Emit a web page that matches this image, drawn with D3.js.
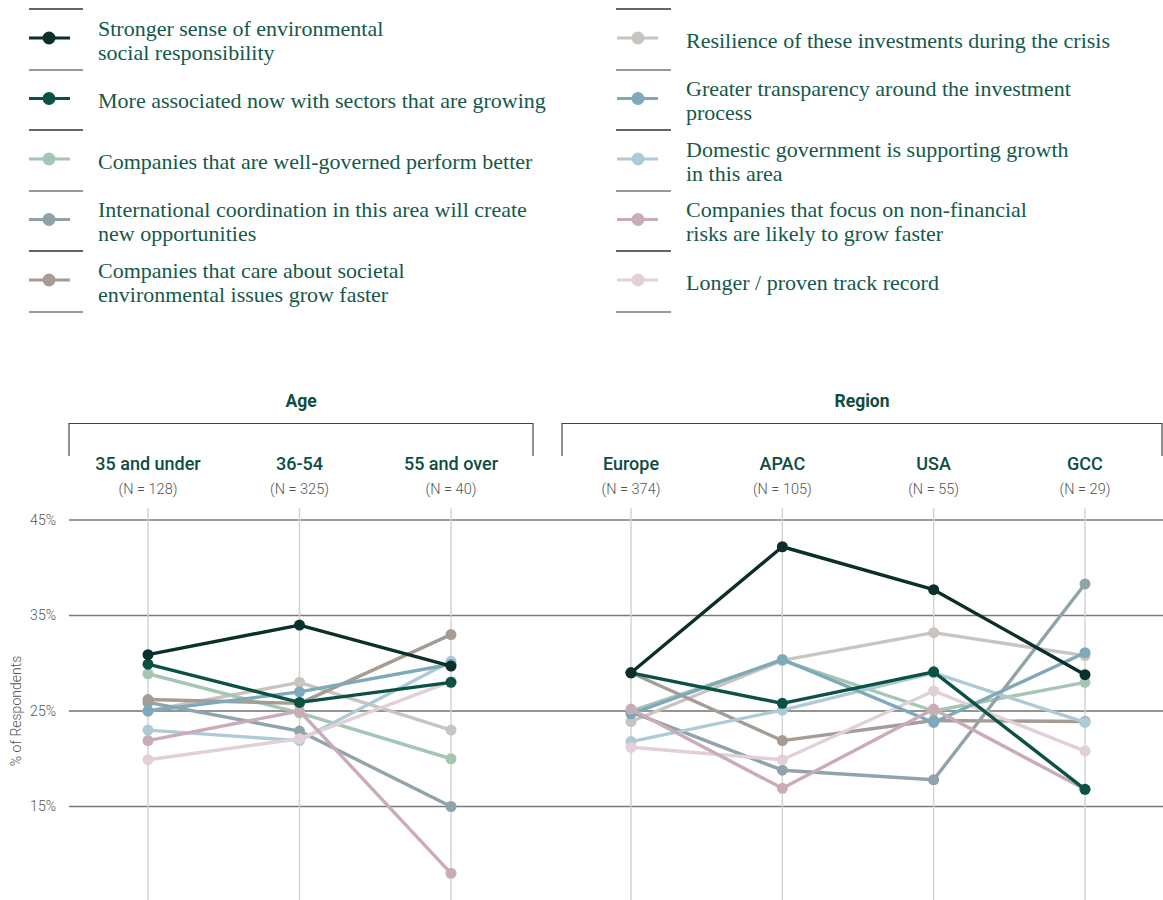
<!DOCTYPE html>
<html>
<head>
<meta charset="utf-8">
<script src="https://cdn.jsdelivr.net/npm/d3@7"></script>
<style>
  html, body { margin: 0; padding: 0; background: #fff; }
  svg { display: block; }
</style>
</head>
<body>
<svg id="chart" width="1163" height="900"></svg>
<script>
// Survey groups and their sample sizes
const ageGroups = ["35 and under", "36-54", "55 and over"];
const ageN = ["(N = 128)", "(N = 325)", "(N = 40)"];
const regionGroups = ["Europe", "APAC", "USA", "GCC"];
const regionN = ["(N = 374)", "(N = 105)", "(N = 55)", "(N = 29)"];

// Reasons (legend order), each as [label lines]
const reasonLabels = [
  ["Stronger sense of environmental", "social responsibility"],
  ["More associated now with sectors that are growing"],
  ["Companies that are well-governed perform better"],
  ["International coordination in this area will create", "new opportunities"],
  ["Companies that care about societal", "environmental issues grow faster"],
  ["Resilience of these investments during the crisis"],
  ["Greater transparency around the investment", "process"],
  ["Domestic government is supporting growth", "in this area"],
  ["Companies that focus on non-financial", "risks are likely to grow faster"],
  ["Longer / proven track record"]
];
const reasonColors = [
  "#0b2f2a", "#0b5244", "#a5c6b2", "#90a3ab", "#a59c96",
  "#c9c4bf", "#7ea9ba", "#aecad6", "#ccabb9", "#e2d0d8"
];

// % of respondents by age group: 35 and under, 36-54, 55 and over
const ageValues = [
  [30.9, 34.0, 29.7],
  [29.9, 25.9, 28.0],
  [28.9, 24.8, 20.0],
  [25.9, 22.9, 15.0],
  [26.2, 25.8, 33.0],
  [25.0, 28.0, 23.0],
  [25.0, 27.0, 29.9],
  [23.0, 21.9, 30.2],
  [21.9, 25.0, 8.0],
  [19.9, 22.1, 28.1]
];
// % of respondents by region: Europe, APAC, USA, GCC
const regionValues = [
  [29.0, 42.2, 37.7, 28.8],
  [29.0, 25.8, 29.1, 16.8],
  [25.0, 30.3, 25.0, 28.0],
  [24.9, 18.8, 17.8, 38.3],
  [29.0, 21.9, 24.0, 23.9],
  [23.9, 30.3, 33.2, 30.8],
  [24.7, 30.4, 23.8, 31.1],
  [21.8, 25.1, 29.0, 23.8],
  [25.2, 16.9, 25.2, 16.8],
  [21.2, 19.9, 27.1, 20.8]
];
const yTicks = [15, 25, 35, 45];

// stacking order of the series (first drawn sits at the bottom)
const drawOrder = [5, 2, 3, 4, 7, 9, 6, 8, 1, 0];

const svg = d3.select("#chart");
const textGreen = "#14594c";
const headGreen = "#0e4d42";
const sans = "Roboto, 'Noto Sans', sans-serif";
const serif = "'Liberation Serif', 'DejaVu Serif', serif";

// ---------- Legend ----------
const legendCols = [
  { sepX1: 29, sepX2: 83, symX1: 29, symX2: 70, dotX: 49, textX: 98 },
  { sepX1: 616, sepX2: 671, symX1: 617, symX2: 658, dotX: 638, textX: 686 }
];
const rowY = d3.scalePoint().domain(d3.range(5)).range([38, 280]);
const sepY = [9, 70, 130, 191, 251, 312];
const legend = svg.append("g").attr("class", "legend");

legendCols.forEach((col, ci) => {
  legend.selectAll(null).data(sepY).enter().append("line")
    .attr("x1", col.sepX1).attr("x2", col.sepX2)
    .attr("y1", d => d).attr("y2", d => d)
    .attr("stroke", (d, i) => i % 2 ? "#777" : "#333").attr("stroke-width", 1.3);

  const items = d3.range(5).map(i => ci * 5 + i);
  const item = legend.selectAll(null).data(items).enter().append("g")
    .attr("transform", (d, i) => `translate(0,${rowY(i)})`);
  item.append("line")
    .attr("x1", col.symX1).attr("x2", col.symX2)
    .attr("stroke", d => reasonColors[d]).attr("stroke-width", 3);
  item.append("circle")
    .attr("cx", col.dotX).attr("r", 6.5)
    .attr("fill", d => reasonColors[d]);
  item.append("text")
    .attr("x", col.textX)
    .attr("font-family", serif).attr("font-size", 22)
    .attr("fill", textGreen)
    .each(function (d) {
      const lines = reasonLabels[d];
      const lh = 24;
      const first = 9 - (lines.length - 1) * lh / 2 + 0.5;
      d3.select(this).selectAll("tspan").data(lines).enter().append("tspan")
        .attr("x", col.textX)
        .attr("y", (l, j) => first + j * lh)
        .text(l => l);
    });
});

// ---------- Chart ----------
const y = d3.scaleLinear().domain([15, 45]).range([806.5, 520]);
const xAge = d3.scalePoint().domain(ageGroups).range([148, 451]);
const xRegion = d3.scalePoint().domain(regionGroups).range([631, 1085]);

const grid = svg.append("g").attr("class", "grid");

// horizontal reference lines
grid.selectAll(null).data(yTicks).enter().append("line")
  .attr("x1", 69).attr("x2", 1163)
  .attr("y1", d => y(d)).attr("y2", d => y(d))
  .attr("stroke", d => d === 25 ? "#2a2a2a" : "#7a7a7a")
  .attr("stroke-width", d => d === 25 ? 1 : 1.4);

// y axis labels
const yAxis = d3.axisLeft(y).tickValues(yTicks).tickFormat(d => d + "%").tickSize(0).tickPadding(0);
const yAxisG = svg.append("g").attr("transform", "translate(56,0)").call(yAxis);
yAxisG.select(".domain").remove();
yAxisG.selectAll("text")
  .attr("font-family", sans).attr("font-size", 14).attr("font-weight", 300)
  .attr("fill", "#555");

svg.append("text")
  .attr("transform", `translate(21,${y(25)}) rotate(-90)`)
  .attr("text-anchor", "middle")
  .attr("font-family", sans).attr("font-size", 14).attr("font-weight", 300)
  .attr("fill", "#555")
  .text("% of Respondents");

// group panels
const panels = [
  { title: "Age", groups: ageGroups, ns: ageN, x: xAge, values: ageValues, bx1: 69, bx2: 533 },
  { title: "Region", groups: regionGroups, ns: regionN, x: xRegion, values: regionValues, bx1: 562, bx2: 1162 }
];

panels.forEach(p => {
  const g = svg.append("g");
  const cx = (p.bx1 + p.bx2) / 2;

  g.append("text")
    .attr("x", cx).attr("y", 407)
    .attr("text-anchor", "middle")
    .attr("font-family", sans).attr("font-size", 17.5).attr("font-weight", 700)
    .attr("fill", headGreen)
    .text(p.title);

  g.append("path")
    .attr("d", `M${p.bx1},456V423.5H${p.bx2}V456`)
    .attr("fill", "none").attr("stroke", "#444").attr("stroke-width", 1.2);

  // vertical guides at each group
  g.selectAll(null).data(p.groups).enter().append("line")
    .attr("x1", d => p.x(d)).attr("x2", d => p.x(d))
    .attr("y1", 508).attr("y2", 900)
    .attr("stroke", "#d2d2d2").attr("stroke-width", 1.4);

  g.selectAll(null).data(p.groups).enter().append("text")
    .attr("x", d => p.x(d)).attr("y", 470)
    .attr("text-anchor", "middle")
    .attr("font-family", sans).attr("font-size", 18).attr("font-weight", 500)
    .attr("fill", headGreen)
    .text(d => d);

  g.selectAll(null).data(p.ns).enter().append("text")
    .attr("x", (d, i) => p.x(p.groups[i])).attr("y", 494)
    .attr("text-anchor", "middle")
    .attr("font-family", sans).attr("font-size", 14.5).attr("font-weight", 300)
    .attr("fill", "#555")
    .text(d => d);

  const line = d3.line().x((d, i) => p.x(p.groups[i])).y(d => y(d));
  const series = g.selectAll(null).data(drawOrder).enter().append("g");
  series.append("path")
    .attr("d", s => line(p.values[s]))
    .attr("fill", "none")
    .attr("stroke", s => reasonColors[s])
    .attr("stroke-width", 3.4)
    .attr("stroke-linejoin", "round");
  series.selectAll("circle")
    .data(s => p.values[s].map((v, i) => ({ s, v, i })))
    .enter().append("circle")
    .attr("cx", d => p.x(p.groups[d.i]))
    .attr("cy", d => y(d.v))
    .attr("r", 5.5)
    .attr("fill", d => reasonColors[d.s]);
});
</script>
</body>
</html>
